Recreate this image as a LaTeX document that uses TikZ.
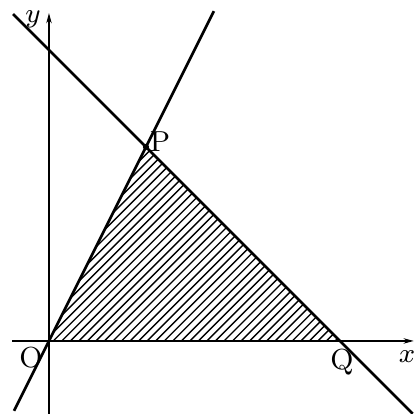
\documentclass[tikz,border=0pt]{standalone}
\usetikzlibrary{arrows.meta}
\begin{document}
\begin{tikzpicture}[x=1cm,y=1cm,
  axis/.style={line width=0.35pt,-{Stealth[length=3pt,width=1.6pt]}},
  mainline/.style={line width=0.8pt},
  hatch/.style={line width=0.4pt},
  lbl/.style={font=\fontsize{8.5}{10}\selectfont,inner sep=0pt}]
\useasboundingbox (-0.505,-0.753) rectangle (3.763,3.515);
\coordinate (O) at (0,0);
\coordinate (P) at (1,2);
\coordinate (Q) at (3,0);
\coordinate (xs) at (-0.38,0);
\coordinate (xe) at (3.76,0);
\coordinate (ys) at (0,-0.753);
\coordinate (ye) at (0,3.38);
\coordinate (l1s) at (-0.36,-0.72);
\coordinate (l1e) at (1.70,3.40);
\coordinate (l2s) at (-0.37,3.37);
\coordinate (l2e) at (3.75,-0.75);
% hatching
\begin{scope}
\clip (O) -- (P) -- (Q) -- cycle;
\foreach \c in {-1.1,-1.012,...,3.2}
  \draw[hatch] (\c-1,-1) -- (\c+4,4);
\end{scope}
\draw[axis] (xs) -- (xe);
\draw[axis] (ys) -- (ye);
\draw[mainline] (l1s) -- (l1e);
\draw[mainline] (l2s) -- (l2e);
\fill (P) circle (0.032);
\node[lbl] (ylab) at (-0.165,3.32) {$y$};
\node[lbl] (xlab) at (3.69,-0.165) {$x$};
\node[lbl] (Olab) at (-0.186,-0.175) {O};
\node[lbl] (Plab) at (1.144,2.05) {P};
\node[lbl] (Qlab) at (3.02,-0.216) {Q};
\end{tikzpicture}
\end{document}
